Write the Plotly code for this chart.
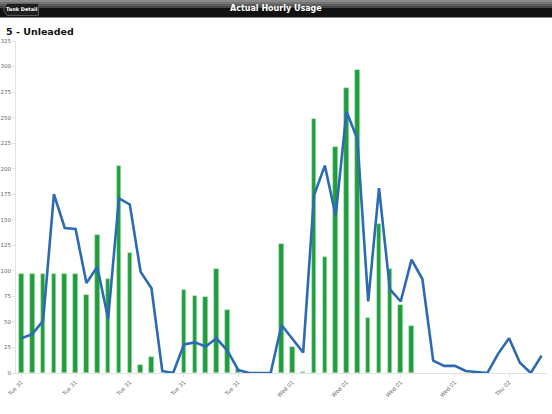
import plotly.graph_objects as go

# hourly points, tick label every 5th hour
hours = list(range(49))
tick_pos = [0, 5, 10, 15, 20, 25, 30, 35, 40, 45]
tick_labels = ["Tue 31", "Tue 31", "Tue 31", "Tue 31", "Tue 31",
               "Wed 01", "Wed 01", "Wed 01", "Wed 01", "Thu 02"]

# green bars (only the first 37 hours have bars)
bar_vals = [97, 97, 97, 97, 97, 97, 76, 135, 92, 203,
            117, 8, 16, 0, 0, 81, 75, 74, 102, 62,
            4, 0, 0, 0, 126, 25, 1, 249, 114, 221,
            279, 297, 54, 146, 102, 67, 46]

# blue line
line_vals = [34, 38, 51, 175, 142, 141, 88, 104, 53, 171,
             165, 99, 83, 2, 0, 28, 30, 26, 34, 22,
             3, 0, 0, 0, 47, 34, 20, 174, 203, 154,
             256, 229, 70, 181, 82, 70, 111, 92, 12, 7,
             7, 2, 1, 0, 19, 34, 10, 0, 17]

W, H = 552, 414
L, R, T, B = 16, 5, 41, 41


def px(x):
    return (x - L) / (W - L - R)


def py(y):
    return (H - B - y) / (H - T - B)


fig = go.Figure()
fig.add_trace(go.Bar(
    x=hours[:len(bar_vals)], y=bar_vals, width=0.42,
    marker=dict(color="#1f9d3f", line=dict(color="#b9e6b9", width=0.6)),
    hoverinfo="y"))
fig.add_trace(go.Scatter(
    x=hours, y=line_vals, mode="lines",
    line=dict(color="#2c6bb3", width=2.6), hoverinfo="y"))

shapes = []
# header bar: glossy top, black bottom
strips = [(0, 2, "#8a8a8a"), (2, 4, "#747474"), (4, 6, "#5e5e5e"),
          (6, 8, "#474747"), (8, 17.5, "#111111")]
for y0, y1, c in strips:
    shapes.append(dict(type="rect", xref="paper", yref="paper",
                       x0=px(0), x1=px(W), y0=py(y1), y1=py(y0),
                       fillcolor=c, line=dict(width=0), layer="above"))
# back button
bx0, bx1, by0, by1 = 3, 38.5, 3.5, 15.5
path = "M {},{} L {},{} L {},{} L {},{} L {},{} Z".format(
    px(bx0), py((by0 + by1) / 2), px(bx0 + 4), py(by0), px(bx1), py(by0),
    px(bx1), py(by1), px(bx0 + 4), py(by1))
shapes.append(dict(type="path", xref="paper", yref="paper", path=path,
                   fillcolor="#1e1e1e", line=dict(color="#6a6a6a", width=0.8),
                   layer="above"))

fig.update_layout(
    width=W, height=H,
    margin=dict(l=L, r=R, t=T, b=B, autoexpand=False),
    paper_bgcolor="white", plot_bgcolor="white",
    showlegend=False, bargap=0,
    font=dict(family="DejaVu Sans", color="#666"),
    shapes=shapes,
    annotations=[
        dict(text="<b>Actual Hourly Usage</b>", xref="paper", yref="paper",
             x=px(W / 2), y=py(9), xanchor="center", yanchor="middle",
             showarrow=False,
             font=dict(size=8, color="white", family="DejaVu Sans")),
        dict(text="<b>Tank Detail</b>", xref="paper", yref="paper",
             x=px(22), y=py(9.5), xanchor="center", yanchor="middle",
             showarrow=False,
             font=dict(size=5, color="white", family="DejaVu Sans")),
        dict(text="<b>5 - Unleaded</b>", xref="paper", yref="paper",
             x=px(4), y=py(31), xanchor="left", yanchor="middle",
             showarrow=False,
             font=dict(size=9.5, color="#111", family="DejaVu Sans")),
    ],
)
fig.update_xaxes(
    range=[-0.5, 48.5], tickmode="array", tickvals=tick_pos, ticktext=tick_labels,
    tickangle=-45, tickfont=dict(size=5.5, color="#666"), automargin=False,
    showgrid=False, zeroline=False, showline=True, linecolor="#e2e2e2",
    ticks="outside", ticklen=3, tickcolor="#e2e2e2")
fig.update_yaxes(
    range=[0, 325], tickmode="array", tickvals=list(range(0, 326, 25)),
    tickfont=dict(size=5.5, color="#666"), automargin=False,
    showgrid=False, zeroline=False, showline=True, linecolor="#e2e2e2",
    ticks="outside", ticklen=3, tickcolor="#e2e2e2")

# page has a default 8px body margin, drop it so the figure fills the window
fig.write_html("out.html", config={"displayModeBar": False},
               post_script="document.body.style.margin='0';")
